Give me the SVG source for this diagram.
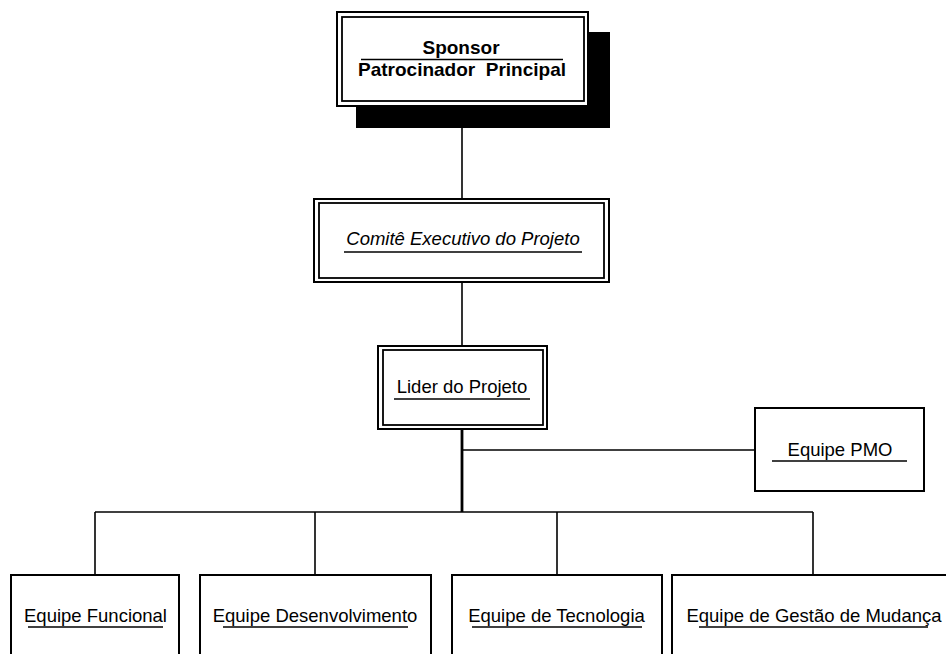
<svg xmlns="http://www.w3.org/2000/svg" width="946" height="654" viewBox="0 0 946 654">
<style>
.box{fill:#fff;stroke:#000;stroke-width:2}
.inner{fill:none;stroke:#000;stroke-width:1.8}
.shadow{fill:#000;stroke:none}
.t{font-family:"Liberation Sans",Arial,sans-serif;font-size:18.5px;fill:#000;text-anchor:middle}
.b{font-weight:bold;font-size:19px}
.i{font-style:italic}
.ul{stroke:#000;stroke-width:1.6}
.c{stroke:#000;stroke-width:1.6;fill:none}
</style>
<rect width="946" height="654" fill="#fff"/>
<g id="connectors">
<line class="c" x1="462" y1="128" x2="462" y2="199"/>
<line class="c" x1="462" y1="282" x2="462" y2="346"/>
<line class="c" x1="462" y1="429" x2="462" y2="512" style="stroke-width:2.8"/>
<line class="c" x1="462" y1="450" x2="755" y2="450"/>
<line class="c" x1="95" y1="512" x2="813" y2="512"/>
<line class="c" x1="95" y1="512" x2="95" y2="575"/>
<line class="c" x1="315" y1="512" x2="315" y2="575"/>
<line class="c" x1="557" y1="512" x2="557" y2="575"/>
<line class="c" x1="813" y1="512" x2="813" y2="575"/>
</g>
<g id="sponsor">
<rect class="shadow" x="356" y="32" width="254" height="96"/>
<rect class="box" x="337" y="12" width="251" height="94"/>
<rect class="inner" x="342" y="17" width="242" height="84"/>
<text class="t b" x="461" y="54">Sponsor</text>
<line class="ul" x1="361" y1="59.5" x2="563" y2="59.5"/>
<text class="t b" x="462" y="76" xml:space="preserve">Patrocinador  Principal</text>
</g>
<g id="comite">
<rect class="box" x="314" y="199" width="295" height="83"/>
<rect class="inner" x="319" y="203" width="285" height="75"/>
<text class="t i" x="463" y="245">Comitê Executivo do Projeto</text>
<line class="ul" x1="344" y1="252" x2="582" y2="252"/>
</g>
<g id="lider">
<rect class="box" x="378" y="346" width="169" height="83"/>
<rect class="inner" x="383" y="350" width="160" height="75"/>
<text class="t" x="462" y="393">Lider do Projeto</text>
<line class="ul" x1="394" y1="399" x2="530" y2="399"/>
</g>
<g id="pmo">
<rect class="box" x="755" y="408" width="169" height="83"/>
<text class="t" x="840" y="456">Equipe PMO</text>
<line class="ul" x1="772" y1="461" x2="907" y2="461"/>
</g>
<g id="funcional">
<rect class="box" x="11" y="575" width="168" height="100"/>
<text class="t" x="95.5" y="622">Equipe Funcional</text>
<line class="ul" x1="28" y1="627" x2="163" y2="627"/>
</g>
<g id="desenvolvimento">
<rect class="box" x="200" y="575" width="231" height="100"/>
<text class="t" x="315" y="622">Equipe Desenvolvimento</text>
<line class="ul" x1="223" y1="627" x2="408" y2="627"/>
</g>
<g id="tecnologia">
<rect class="box" x="452" y="575" width="210" height="100"/>
<text class="t" x="556.5" y="622">Equipe de Tecnologia</text>
<line class="ul" x1="472" y1="627" x2="642" y2="627"/>
</g>
<g id="mudanca">
<rect class="box" x="672" y="575" width="290" height="100"/>
<text class="t" x="814" y="622">Equipe de Gestão de Mudança</text>
<line class="ul" x1="699" y1="627" x2="928" y2="627"/>
</g>
</svg>
